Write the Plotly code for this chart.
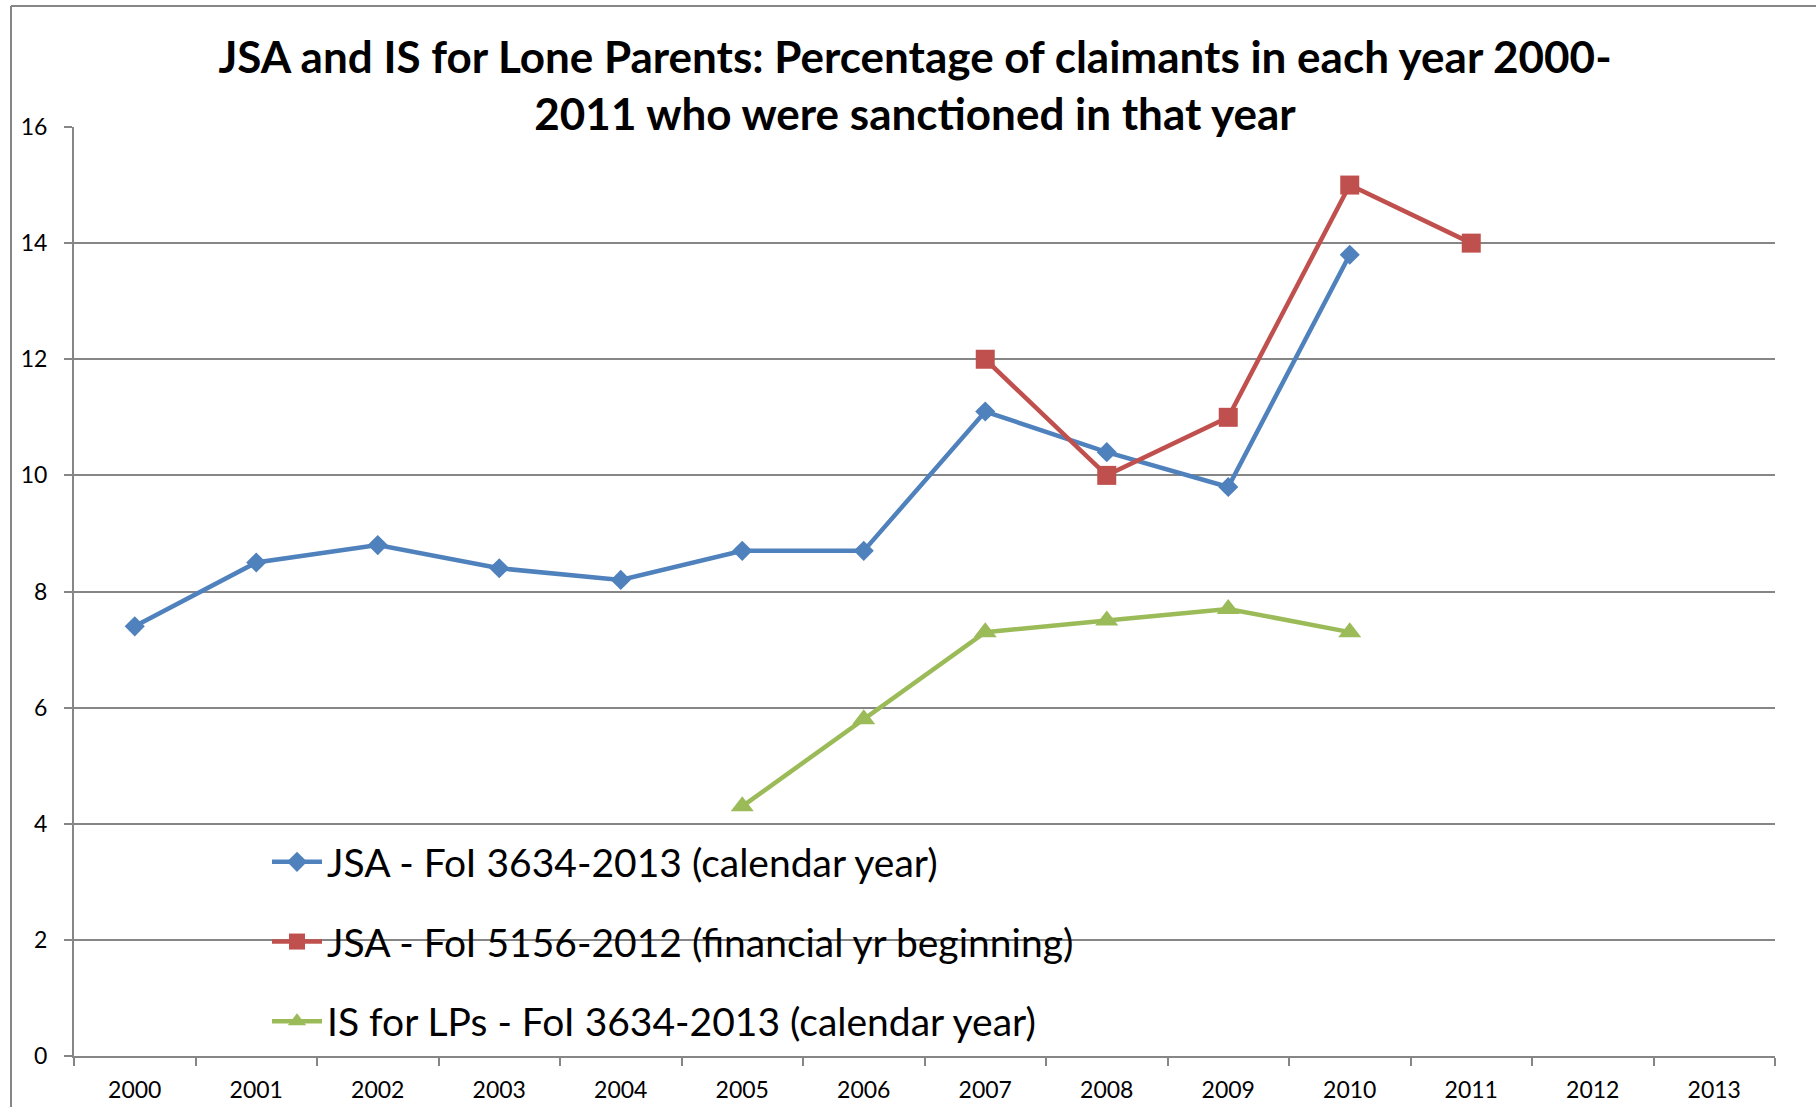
import plotly.graph_objects as go

years = [str(y) for y in range(2000, 2014)]

jsa_cal_years = ["2000", "2001", "2002", "2003", "2004", "2005", "2006", "2007", "2008", "2009", "2010"]
jsa_cal_vals = [7.4, 8.5, 8.8, 8.4, 8.2, 8.7, 8.7, 11.1, 10.4, 9.8, 13.8]

jsa_fin_years = ["2007", "2008", "2009", "2010", "2011"]
jsa_fin_vals = [12, 10, 11, 15, 14]

is_lp_years = ["2005", "2006", "2007", "2008", "2009", "2010"]
is_lp_vals = [4.3, 5.8, 7.3, 7.5, 7.7, 7.3]

names = [
    "JSA - FoI 3634-2013 (calendar year)",
    "JSA - FoI 5156-2012 (financial yr beginning)",
    "IS for LPs - FoI 3634-2013 (calendar year)",
]
colors = ["#4F81BD", "#C0504D", "#9BBB59"]

W, H = 1816, 1107
ML, MR, MT, MB = 74, 41, 127, 51
PW, PH = W - ML - MR, H - MT - MB

fig = go.Figure()
fig.add_trace(go.Scatter(
    x=jsa_cal_years, y=jsa_cal_vals, name=names[0], mode="lines+markers",
    line=dict(color=colors[0], width=4.5),
    marker=dict(symbol="diamond", size=15.5, color=colors[0]),
    legendgroup="a",
))
fig.add_trace(go.Scatter(
    x=jsa_fin_years, y=jsa_fin_vals, name=names[1], mode="lines+markers",
    line=dict(color=colors[1], width=4.5),
    marker=dict(symbol="square", size=19, color=colors[1]),
    legendgroup="b",
))
fig.add_trace(go.Scatter(
    x=is_lp_years, y=is_lp_vals, name=names[2], mode="lines+markers",
    line=dict(color=colors[2], width=4.5),
    marker=dict(symbol="triangle-up", size=20, color=colors[2]),
    legendgroup="c",
))

font_family = "Lato, 'Open Sans', sans-serif"

fig.update_layout(
    width=W, height=H,
    margin=dict(l=ML, r=MR, t=MT, b=MB, autoexpand=False),
    paper_bgcolor="white", plot_bgcolor="white",
    font=dict(family=font_family, color="black"),
    title=dict(
        text="<b>JSA and IS for Lone Parents: Percentage of claimants in each year 2000-<br>2011 who were sanctioned in that year</b>",
        x=915 / W, xanchor="center",
        y=1 - 73 / H, yanchor="middle",
        font=dict(size=44, family=font_family, color="black"),
    ),
    showlegend=True,
    legend=dict(
        x=(267 - ML) / PW, xanchor="left",
        y=1 - (830 - MT) / PH, yanchor="top",
        bgcolor="rgba(0,0,0,0)",
        font=dict(size=39, family=font_family, color="black"),
        tracegroupgap=26,
        itemwidth=50,
    ),
    xaxis=dict(
        type="category", categoryorder="array", categoryarray=years,
        range=[-0.5, 13.5], automargin=False,
        tickmode="array", tickvals=years, ticktext=years,
        tickson="boundaries", ticks="outside", ticklen=8, tickwidth=2, tickcolor="#868686",
        showline=True, linecolor="#868686", linewidth=2,
        showgrid=False, zeroline=False,
        tickfont=dict(size=23, family=font_family, color="black"),
        ticklabelstandoff=12,
    ),
    yaxis=dict(
        range=[0, 16], tickmode="array", tickvals=list(range(0, 17, 2)),
        automargin=False,
        ticks="outside", ticklen=8, tickwidth=2, tickcolor="#868686",
        showline=True, linecolor="#868686", linewidth=2,
        showgrid=True, gridcolor="#868686", gridwidth=1.5,
        zeroline=False,
        tickfont=dict(size=23, family=font_family, color="black"),
        ticklabelstandoff=12,
    ),
)

# outer chart frame (left and top edges visible in the reference)
fx0 = (11 - ML) / PW
fy_top = 1 + (MT - 6) / PH
fig.add_shape(type="line", xref="paper", yref="paper",
              x0=fx0, x1=fx0, y0=-(MB + 5) / PH, y1=fy_top,
              line=dict(color="#868686", width=2))
fig.add_shape(type="line", xref="paper", yref="paper",
              x0=fx0, x1=1 + (MR + 5) / PW, y0=fy_top, y1=fy_top,
              line=dict(color="#868686", width=2))

fig.write_html("out.html", config={"displayModeBar": False},
               post_script="document.body.style.margin='0';")
